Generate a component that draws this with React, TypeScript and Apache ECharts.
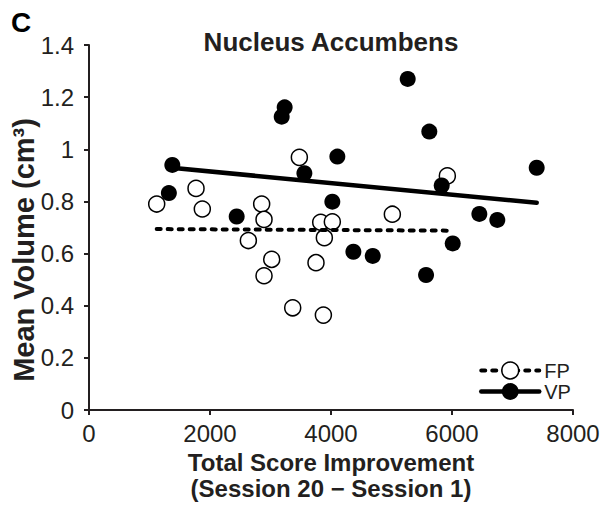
import React, { useEffect, useRef } from 'react';
import * as echarts from 'echarts';

const xTicks = [0, 2000, 4000, 6000, 8000];
const yTicks = [0, 0.2, 0.4, 0.6, 0.8, 1, 1.2, 1.4];

const fpX = [1119, 1769, 1873, 2634, 2854, 2893, 2893, 3020, 3367, 3477, 3752, 3830, 3874, 3890, 4022, 5014, 5923];
const fpY = [0.79, 0.85, 0.771, 0.65, 0.79, 0.731, 0.515, 0.578, 0.392, 0.969, 0.565, 0.72, 0.364, 0.661, 0.722, 0.751, 0.898];

const vpX = [1320, 1377, 2441, 3185, 3234, 3560, 4022, 4105, 4370, 4690, 5268, 5571, 5625, 5830, 6012, 6452, 6749, 7400];
const vpY = [0.832, 0.94, 0.742, 1.125, 1.161, 0.908, 0.799, 0.972, 0.607, 0.591, 1.27, 0.518, 1.068, 0.861, 0.639, 0.752, 0.729, 0.929];

const fpTrend = [[1119, 0.694], [5923, 0.688]];
const vpTrend = [[1320, 0.93], [7400, 0.795]];

const FONT = 'Liberation Sans, Arial, Helvetica, sans-serif';
const INK = '#231f20';

const zip = (xs: number[], ys: number[]) => xs.map((x, i) => [x, ys[i]]);

const centered = { align: 'center', verticalAlign: 'middle', textAlign: 'center', textVerticalAlign: 'middle' };

export default function App() {
  const ref = useRef<HTMLDivElement>(null);
  useEffect(() => {
    const chart = echarts.init(ref.current!, null, { renderer: 'svg' });
    const option: any = {
      animation: false,
      backgroundColor: '#ffffff',
      textStyle: { fontFamily: FONT },
      grid: { left: 89, right: 33, top: 45, bottom: 98 },
      xAxis: {
        type: 'value',
        min: xTicks[0],
        max: xTicks[xTicks.length - 1],
        interval: 2000,
        axisLine: { show: true, lineStyle: { color: INK, width: 2 } },
        axisTick: { show: true, length: 5, lineStyle: { color: INK, width: 2 } },
        axisLabel: { fontSize: 24, color: INK, margin: 11, fontFamily: FONT, formatter: (v: number) => String(v) },
        splitLine: { show: false },
      },
      yAxis: {
        type: 'value',
        min: yTicks[0],
        max: yTicks[yTicks.length - 1],
        interval: 0.2,
        axisLine: { show: true, lineStyle: { color: INK, width: 2 } },
        axisTick: { show: true, length: 5, lineStyle: { color: INK, width: 2 } },
        axisLabel: { fontSize: 24, color: INK, margin: 15, fontFamily: FONT, formatter: (v: number) => String(Math.round(v * 10) / 10) },
        splitLine: { show: false },
      },
      legend: {
        data: [
          { name: 'FP', lineStyle: { width: 4 }, itemStyle: { borderWidth: 1.5, borderColor: '#000000' } },
          { name: 'VP', lineStyle: { width: 4.5 }, itemStyle: { borderWidth: 0 } },
        ],
        orient: 'vertical',
        left: 479,
        top: 360,
        padding: 0,
        itemWidth: 58,
        itemHeight: 21,
        itemGap: 0,
        textStyle: { fontSize: 20, color: INK, fontFamily: FONT, lineHeight: 21 },
      },
      graphic: [
        {
          type: 'text', x: 21, y: 22,
          style: { text: 'C', fontSize: 28, fontWeight: 'bold', fontFamily: FONT, fill: '#000', ...centered },
        },
        {
          type: 'text', x: 331, y: 42,
          style: { text: 'Nucleus Accumbens', fontSize: 26, fontWeight: 'bold', fontFamily: FONT, fill: INK, ...centered },
        },
        {
          type: 'text', x: 24, y: 250, rotation: Math.PI / 2,
          style: { text: 'Mean Volume (cm³)', fontSize: 29, fontWeight: 'bold', fontFamily: FONT, fill: INK, ...centered },
        },
        {
          type: 'text', x: 331, y: 462,
          style: { text: 'Total Score Improvement', fontSize: 24, fontWeight: 'bold', fontFamily: FONT, fill: INK, ...centered },
        },
        {
          type: 'text', x: 331, y: 488,
          style: { text: '(Session 20 − Session 1)', fontSize: 24, fontWeight: 'bold', fontFamily: FONT, fill: INK, ...centered },
        },
      ],
      series: [
        {
          name: 'FP',
          type: 'line',
          data: fpTrend,
          symbol: 'circle',
          symbolSize: 16,
          showSymbol: false,
          silent: true,
          z: 5,
          itemStyle: { color: '#ffffff', borderColor: '#000000', borderWidth: 1.5 },
          lineStyle: { color: '#000000', width: 4, type: [4, 7], cap: 'round' },
        },
        {
          name: 'VP',
          type: 'line',
          data: vpTrend,
          symbol: 'circle',
          symbolSize: 16,
          showSymbol: false,
          silent: true,
          z: 5,
          itemStyle: { color: '#000000' },
          lineStyle: { color: '#000000', width: 4.5, cap: 'round' },
        },
        {
          name: 'FP',
          type: 'scatter',
          data: zip(fpX, fpY),
          symbol: 'circle',
          symbolSize: 16,
          z: 2,
          itemStyle: { color: '#ffffff', borderColor: '#000000', borderWidth: 1.5, opacity: 1 },
        },
        {
          name: 'VP',
          type: 'scatter',
          data: zip(vpX, vpY),
          symbol: 'circle',
          symbolSize: 16,
          z: 3,
          itemStyle: { color: '#000000', opacity: 1 },
        },
      ],
    };
    chart.setOption(option);
    return () => chart.dispose();
  }, []);
  return <div ref={ref} style={{ position: 'absolute', left: 0, top: 0, width: 606, height: 508 }} />;
}
